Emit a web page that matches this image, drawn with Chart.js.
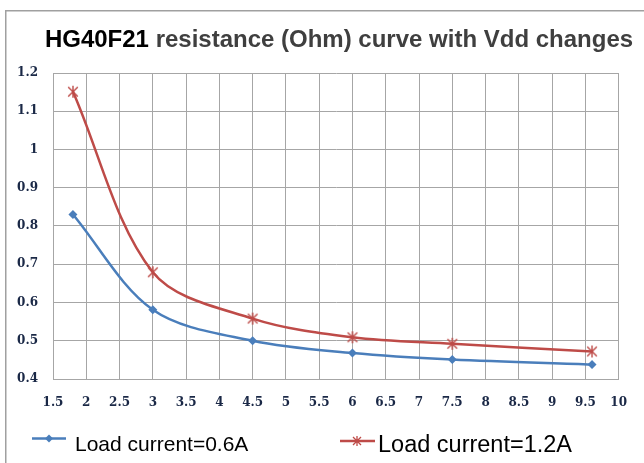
<!DOCTYPE html>
<html>
<head>
<meta charset="utf-8">
<script src="https://cdn.jsdelivr.net/npm/chart.js@4.4.1/dist/chart.umd.min.js"></script>
<style>
  html, body { margin: 0; padding: 0; background: #fff; }
  #wrap { width: 644px; height: 463px; }
</style>
</head>
<body>
<div id="wrap"><canvas id="c" width="644" height="463"></canvas></div>
<script>
/* HG40F21 resistance vs Vdd */

const vdd   = [1.8, 3, 4.5, 6, 7.5, 9.6];
const ohm06 = [0.83, 0.581, 0.50, 0.468, 0.451, 0.438];
const ohm12 = [1.151, 0.679, 0.558, 0.509, 0.492, 0.472];

const xTickLabels = ['1.5','2','2.5','3','3.5','4','4.5','5','5.5','6','6.5','7','7.5','8','8.5','9','9.5','10'];
const yTickLabels = ['0.4','0.5','0.6','0.7','0.8','0.9','1','1.1','1.2'];

const seriesNames = ['Load current=0.6A', 'Load current=1.2A'];
const titleBold = 'HG40F21';
const titleRest = ' resistance (Ohm) curve with Vdd changes';

const BLUE = '#4A7EBB';
const RED  = '#BE4B48';
const GRID = '#a6a6a6';
const TICK = '#1a2846';

// étoile façon Excel : un X plus une barre verticale
function etoile(ctx, x, y, r) {
  ctx.beginPath();
  ctx.moveTo(x - r * 0.8, y - r * 0.8); ctx.lineTo(x + r * 0.8, y + r * 0.8);
  ctx.moveTo(x + r * 0.8, y - r * 0.8); ctx.lineTo(x - r * 0.8, y + r * 0.8);
  ctx.moveTo(x, y - r); ctx.lineTo(x, y + r);
  ctx.stroke();
}
function losange(ctx, x, y, r) {
  ctx.beginPath();
  ctx.moveTo(x, y - r); ctx.lineTo(x + r, y); ctx.lineTo(x, y + r); ctx.lineTo(x - r, y);
  ctx.closePath();
  ctx.fill();
}

const starImg = document.createElement('canvas');
starImg.width = 14; starImg.height = 14;
(() => {
  const c = starImg.getContext('2d');
  c.strokeStyle = RED; c.lineWidth = 1.4;
  etoile(c, 7, 7, 6);
})();

const decor = {
  id: 'decor',
  beforeDraw(chart) {
    const ctx = chart.ctx;
    ctx.save();
    // cadre extérieur
    ctx.strokeStyle = '#a0a0a0';
    ctx.lineWidth = 1.5;
    ctx.strokeRect(5.75, 10.75, 700, 500);
    // titre en deux couleurs
    ctx.font = 'bold 24px "Liberation Sans", Arial, sans-serif';
    ctx.textBaseline = 'alphabetic';
    ctx.textAlign = 'left';
    const w1 = ctx.measureText(titleBold).width;
    const w2 = ctx.measureText(titleRest).width;
    const x0 = 339 - (w1 + w2) / 2;
    ctx.fillStyle = '#000';
    ctx.fillText(titleBold, x0, 47);
    ctx.fillStyle = '#3f3f3f';
    ctx.fillText(titleRest, x0 + w1, 47);
    ctx.restore();
  },
  afterDraw(chart) {
    const ctx = chart.ctx;
    ctx.save();
    ctx.lineWidth = 2.5;
    // entrée 1
    ctx.strokeStyle = BLUE;
    ctx.beginPath(); ctx.moveTo(32, 438.5); ctx.lineTo(66, 438.5); ctx.stroke();
    ctx.fillStyle = BLUE;
    losange(ctx, 49, 438.5, 4);
    // entrée 2
    ctx.strokeStyle = RED;
    ctx.beginPath(); ctx.moveTo(340, 441); ctx.lineTo(375, 441); ctx.stroke();
    ctx.lineWidth = 1.3;
    etoile(ctx, 357, 441, 5);
    ctx.fillStyle = '#000';
    ctx.textBaseline = 'alphabetic';
    ctx.font = '21px "Liberation Sans", Arial, sans-serif';
    ctx.fillText(seriesNames[0], 75, 451);
    ctx.font = '23.5px "Liberation Sans", Arial, sans-serif';
    ctx.fillText(seriesNames[1], 378, 452);
    ctx.restore();
  }
};

const tickFont = { family: '"DejaVu Serif", serif', size: 12, weight: 'bold' };

new Chart(document.getElementById('c'), {
  type: 'line',
  data: {
    datasets: [
      {
        label: seriesNames[0],
        data: vdd.map((v, i) => ({ x: v, y: ohm06[i] })),
        borderColor: BLUE,
        backgroundColor: BLUE,
        borderWidth: 2.5,
        pointStyle: 'rectRot',
        pointRadius: 4.5,
        pointBorderWidth: 0,
        tension: 0.33,
      },
      {
        label: seriesNames[1],
        data: vdd.map((v, i) => ({ x: v, y: ohm12[i] })),
        borderColor: RED,
        backgroundColor: RED,
        borderWidth: 2.5,
        pointStyle: starImg,
        tension: 0.33,
      }
    ]
  },
  options: {
    responsive: false,
    animation: false,
    devicePixelRatio: 1,
    layout: { padding: { top: 73, right: 22, left: 0, bottom: 0 } },
    plugins: {
      legend: { display: false },
      title: { display: false },
      tooltip: { enabled: false }
    },
    scales: {
      x: {
        type: 'linear',
        min: 1.5, max: 10,
        afterFit: s => { s.height = 84; },
        grid: { color: GRID, lineWidth: 1, drawTicks: false },
        border: { color: GRID },
        ticks: {
          stepSize: 0.5,
          padding: 17,
          color: TICK,
          font: tickFont,
          maxRotation: 0,
          autoSkip: false,
          callback: (v, i) => xTickLabels[i]
        }
      },
      y: {
        min: 0.4, max: 1.2,
        afterFit: s => { s.width = 53; },
        grid: { color: GRID, lineWidth: 1, drawTicks: false },
        border: { color: GRID },
        ticks: {
          stepSize: 0.1,
          padding: 15,
          color: TICK,
          font: tickFont,
          callback: (v, i) => yTickLabels[i]
        }
      }
    }
  },
  plugins: [decor]
});
</script>
</body>
</html>
